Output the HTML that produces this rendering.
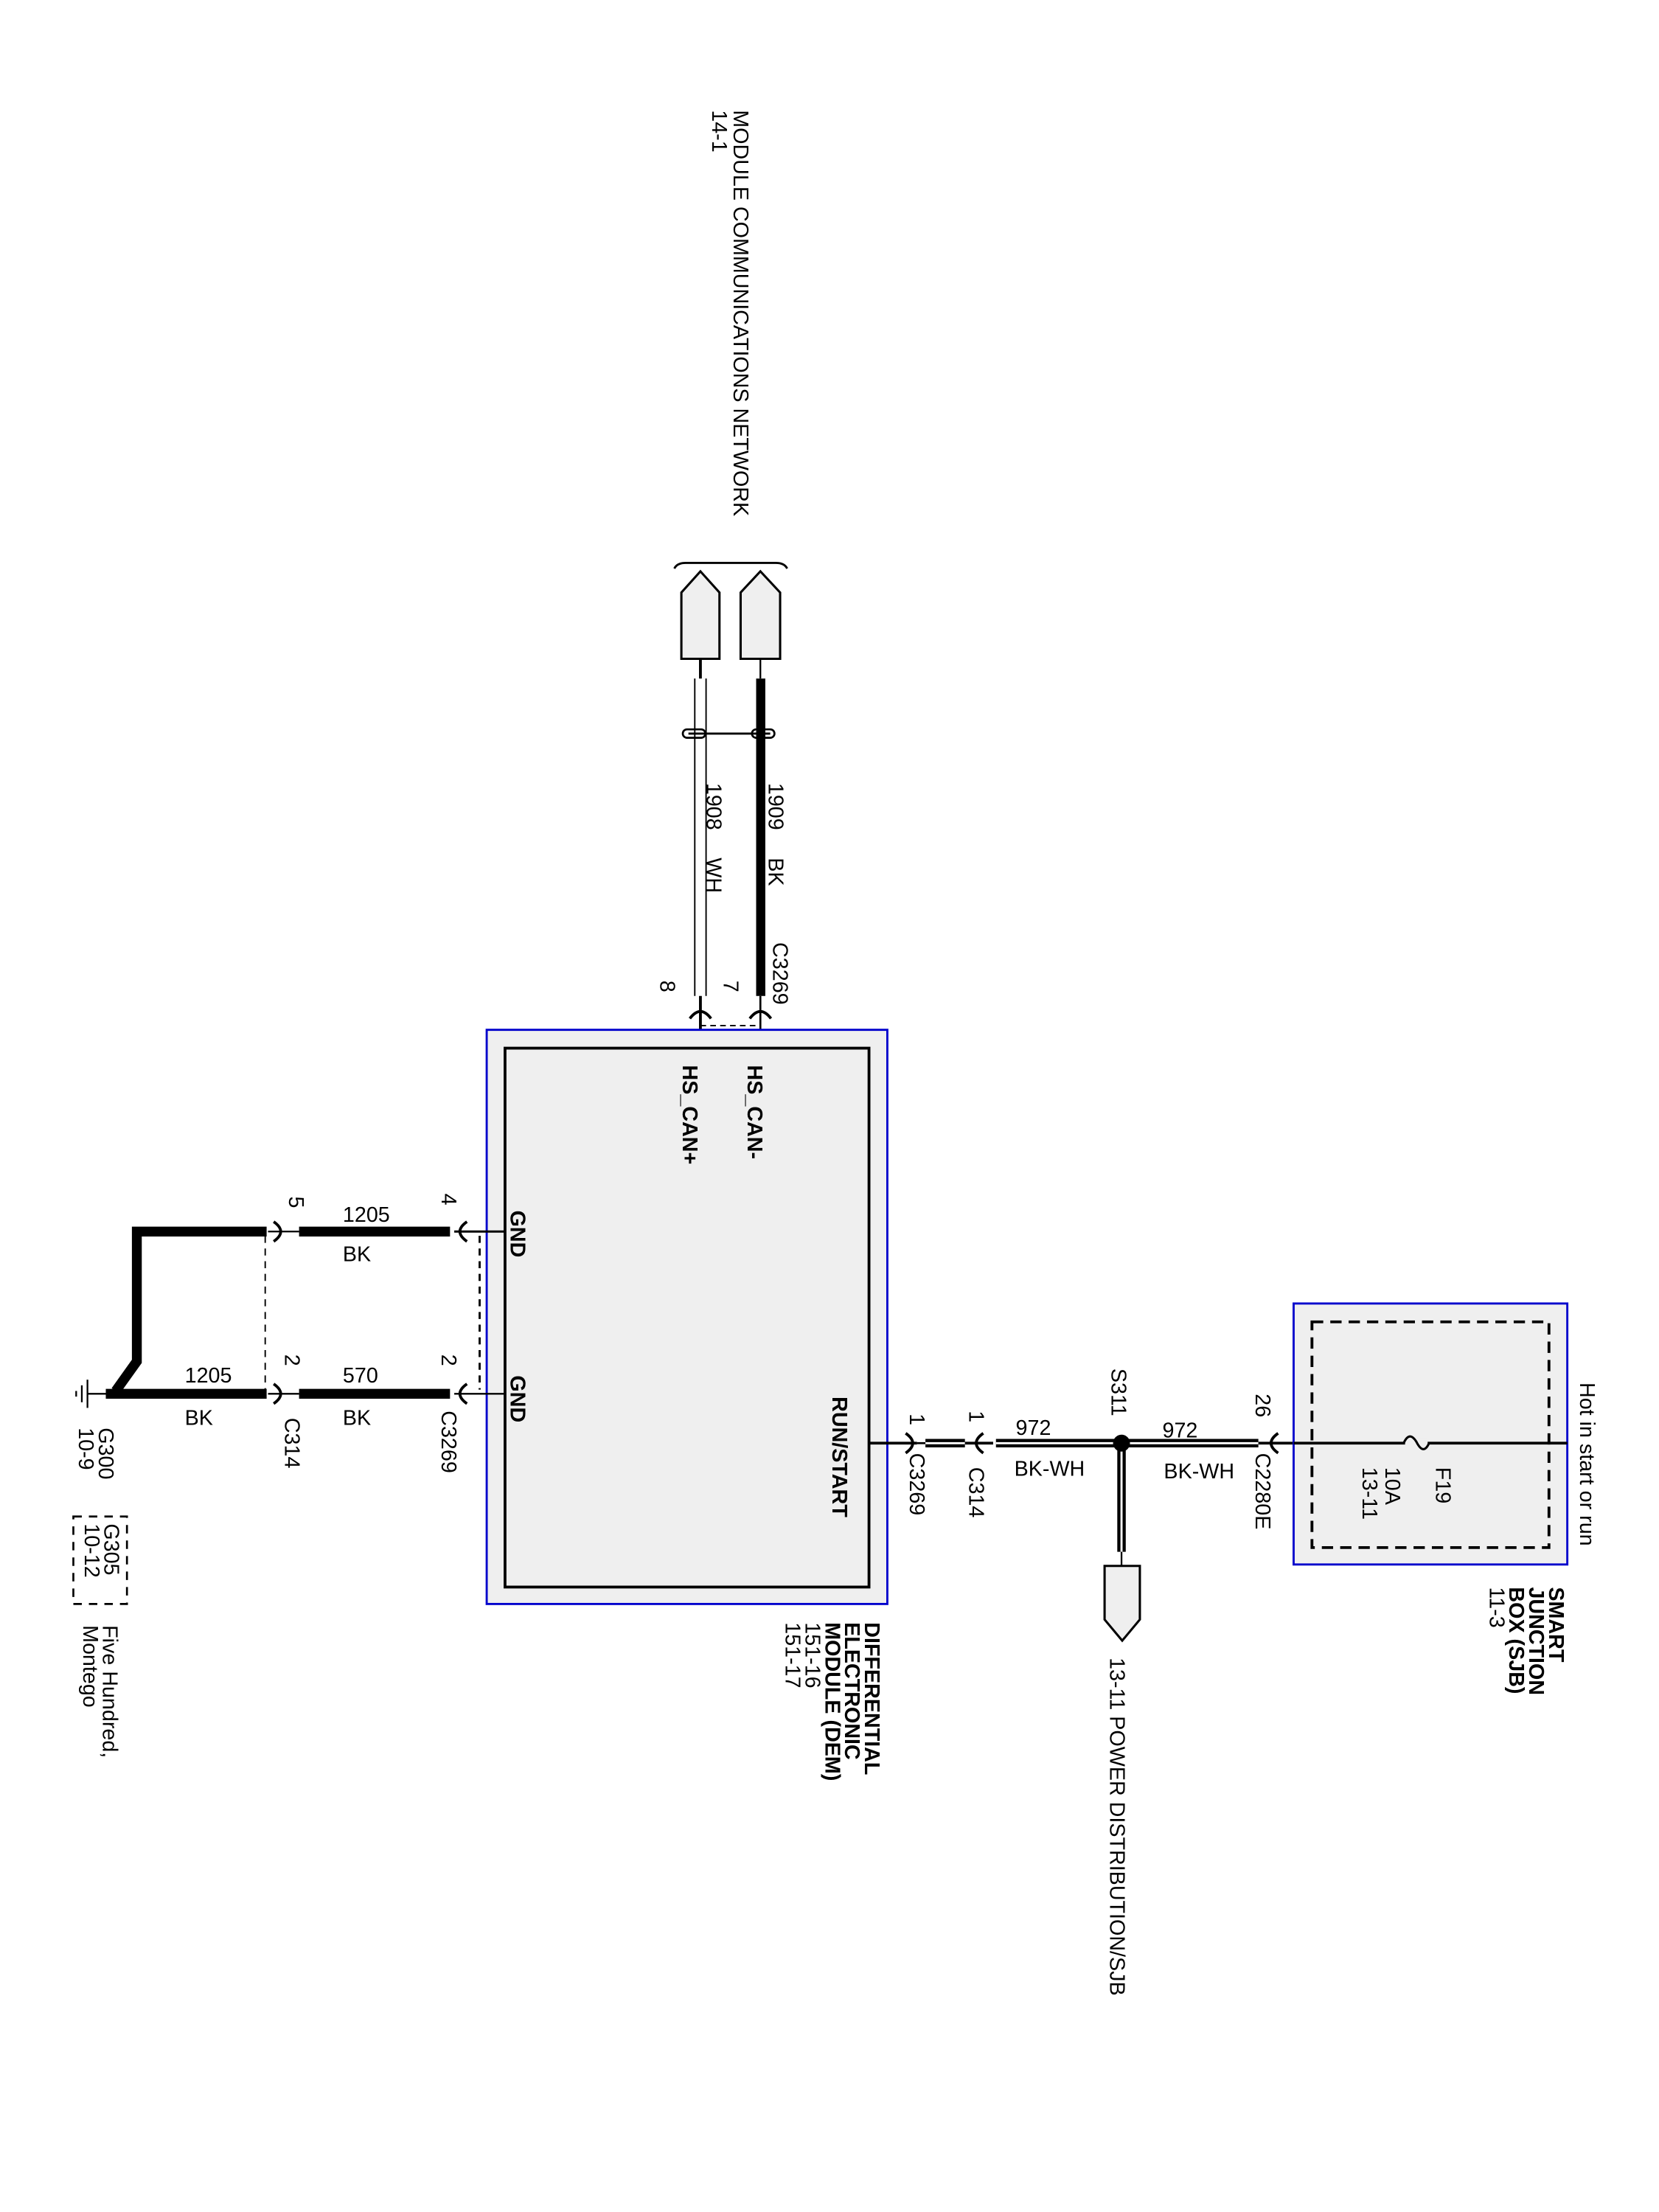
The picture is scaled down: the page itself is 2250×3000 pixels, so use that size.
<!DOCTYPE html>
<html><head><meta charset="utf-8"><style>
html,body{margin:0;padding:0;background:#fff;}
svg{display:block;}
text{font-family:"Liberation Sans",Arial,sans-serif;font-size:15px;fill:#000;}
.b{font-weight:bold;}
</style></head><body>
<svg width="2250" height="3000" viewBox="0 0 1176 1568" xmlns="http://www.w3.org/2000/svg">
<rect width="1176" height="1568" fill="#fff"/>
<text transform="translate(520,78) rotate(90)">MODULE COMMUNICATIONS NETWORK</text>
<text transform="translate(505,78) rotate(90)">14-1</text>
<path d="M478 403 Q480 399 486 399 L550 399 Q556 399 558 403" fill="none" stroke="#000" stroke-width="1.5"/>
<polygon points="483,467 483,420 496.5,405 510,420 510,467" fill="#efefef" stroke="#000" stroke-width="1.6"/>
<polygon points="525,467 525,420 539,405 553,420 553,467" fill="#efefef" stroke="#000" stroke-width="1.6"/>
<line x1="496.5" y1="467" x2="496.5" y2="481" stroke="#000" stroke-width="2"/>
<line x1="539" y1="467" x2="539" y2="481" stroke="#000" stroke-width="1.2"/>
<line x1="492.5" y1="481" x2="492.5" y2="706" stroke="#000" stroke-width="1"/>
<line x1="500.5" y1="481" x2="500.5" y2="706" stroke="#000" stroke-width="1"/>
<rect x="536" y="481" width="6.5" height="225" fill="#000"/>
<line x1="488" y1="520" x2="546" y2="520" stroke="#000" stroke-width="1.5"/>
<rect x="484" y="517" width="16" height="6" rx="3" fill="none" stroke="#000" stroke-width="1.4"/>
<rect x="533" y="517" width="16" height="6" rx="3" fill="none" stroke="#000" stroke-width="1.4"/>
<text transform="translate(501,555) rotate(90)">1908</text>
<text transform="translate(501,608) rotate(90)">WH</text>
<text transform="translate(545,555) rotate(90)">1909</text>
<text transform="translate(545,608) rotate(90)">BK</text>
<text transform="translate(548,668) rotate(90)">C3269</text>
<text transform="translate(468,695) rotate(90)">8</text>
<text transform="translate(513,695) rotate(90)">7</text>
<line x1="496.5" y1="706" x2="496.5" y2="743" stroke="#000" stroke-width="2"/>
<line x1="539" y1="706" x2="539" y2="743" stroke="#000" stroke-width="1.4"/>
<path d="M489 722 Q496.5 712 504 722" fill="none" stroke="#000" stroke-width="2"/>
<path d="M531.5 722 Q539 712 546.5 722" fill="none" stroke="#000" stroke-width="2"/>
<line x1="496.5" y1="727" x2="539" y2="727" stroke="#000" stroke-width="1" stroke-dasharray="4,3"/>
<rect x="345" y="730" width="284" height="407" fill="#efefef" stroke="#0000cc" stroke-width="1.5"/>
<rect x="358" y="743" width="258" height="382" fill="none" stroke="#000" stroke-width="2"/>
<text transform="translate(484,755) rotate(90)" class="b">HS_CAN+</text>
<text transform="translate(530,755) rotate(90)" class="b">HS_CAN-</text>
<text transform="translate(362,858) rotate(90)" class="b">GND</text>
<text transform="translate(362,975) rotate(90)" class="b">GND</text>
<text transform="translate(590,990) rotate(90)" class="b">RUN/START</text>
<text transform="translate(613,1150) rotate(90)" class="b">DIFFERENTIAL</text>
<text transform="translate(599,1150) rotate(90)" class="b">ELECTRONIC</text>
<text transform="translate(585,1150) rotate(90)" class="b">MODULE (DEM)</text>
<text transform="translate(571,1150) rotate(90)">151-16</text>
<text transform="translate(557,1150) rotate(90)">151-17</text>
<g stroke="#000" fill="none">
<line x1="358" y1="873" x2="322" y2="873" stroke-width="1.6"/>
<line x1="358" y1="988" x2="322" y2="988" stroke-width="1.2"/>
<path d="M331 866 Q321 873 331 880" stroke-width="2"/>
<path d="M331 981 Q321 988 331 995" stroke-width="2"/>
<line x1="212" y1="873" x2="319" y2="873" stroke-width="7"/>
<line x1="212" y1="988" x2="319" y2="988" stroke-width="7"/>
<line x1="190" y1="873" x2="212" y2="873" stroke-width="1.2"/>
<line x1="190" y1="988" x2="212" y2="988" stroke-width="1.2"/>
<path d="M194 866 Q204 873 194 880" stroke-width="2"/>
<path d="M194 981 Q204 988 194 995" stroke-width="2"/>
<path d="M189 873 L97 873 L97 965 L82 986" stroke-width="7"/>
<line x1="75" y1="988" x2="189" y2="988" stroke-width="7"/>
<line x1="188" y1="876" x2="188" y2="985" stroke-width="1" stroke-dasharray="5,4"/>
<line x1="340" y1="876" x2="340" y2="985" stroke-width="1.5" stroke-dasharray="5,4"/>
<line x1="62" y1="988" x2="76" y2="988" stroke-width="1.2"/>
<line x1="62" y1="978" x2="62" y2="998" stroke-width="1.2"/>
<line x1="58" y1="982" x2="58" y2="994" stroke-width="1.2"/>
<line x1="54" y1="986" x2="54" y2="990" stroke-width="1.2"/>
</g>
<text transform="translate(205,848) rotate(90)">5</text>
<text transform="translate(313,846) rotate(90)">4</text>
<text transform="translate(202,960) rotate(90)">2</text>
<text transform="translate(313,960) rotate(90)">2</text>
<text x="243" y="866">1205</text>
<text x="243" y="894">BK</text>
<text x="131" y="980">1205</text>
<text x="131" y="1010">BK</text>
<text x="243" y="980">570</text>
<text x="243" y="1010">BK</text>
<text transform="translate(202,1005) rotate(90)">C314</text>
<text transform="translate(313,1000) rotate(90)">C3269</text>
<text transform="translate(70,1012) rotate(90)">G300</text>
<text transform="translate(56,1012) rotate(90)">10-9</text>
<rect x="52" y="1075" width="38" height="62" fill="none" stroke="#000" stroke-width="1.4" stroke-dasharray="6,5"/>
<text transform="translate(74,1080) rotate(90)">G305</text>
<text transform="translate(60,1080) rotate(90)">10-12</text>
<text transform="translate(73,1152) rotate(90)">Five Hundred,</text>
<text transform="translate(59,1152) rotate(90)">Montego</text>
<g stroke="#000" fill="none">
<line x1="616" y1="1023" x2="650" y2="1023" stroke-width="2"/>
<path d="M642 1016 Q652 1023 642 1030" stroke-width="2"/>
<line x1="650" y1="1023" x2="660" y2="1023" stroke-width="1.4"/>
<line x1="656" y1="1023" x2="684" y2="1023" stroke-width="6"/>
<line x1="656" y1="1023" x2="684" y2="1023" stroke="#fff" stroke-width="1.5"/>
<line x1="684" y1="1023" x2="704" y2="1023" stroke-width="2"/>
<path d="M697 1016 Q687 1023 697 1030" stroke-width="2"/>
<line x1="706" y1="1023" x2="790" y2="1023" stroke-width="6"/>
<line x1="706" y1="1023" x2="790" y2="1023" stroke="#fff" stroke-width="1.5"/>
<line x1="800" y1="1023" x2="892" y2="1023" stroke-width="6"/>
<line x1="800" y1="1023" x2="892" y2="1023" stroke="#fff" stroke-width="1.5"/>
<line x1="892" y1="1023" x2="1111" y2="1023" stroke-width="2"/>
<path d="M906 1016 Q896 1023 906 1030" stroke-width="2"/>
<line x1="795" y1="1028" x2="795" y2="1100" stroke-width="6"/>
<line x1="795" y1="1028" x2="795" y2="1100" stroke="#fff" stroke-width="1.5"/>
<line x1="795" y1="1100" x2="795" y2="1110" stroke-width="1.2"/>
</g>
<circle cx="795" cy="1023" r="6" fill="#000"/>
<polygon points="783,1110 808,1110 808,1148 795.5,1163 783,1148" fill="#efefef" stroke="#000" stroke-width="1.6"/>
<text transform="translate(645,1002) rotate(90)">1</text>
<text transform="translate(645,1030) rotate(90)">C3269</text>
<text transform="translate(687,1000) rotate(90)">1</text>
<text transform="translate(687,1040) rotate(90)">C314</text>
<text x="720" y="1017">972</text>
<text x="719" y="1046">BK-WH</text>
<text transform="translate(788,970) rotate(90)">S311</text>
<text x="824" y="1019">972</text>
<text x="825" y="1048">BK-WH</text>
<text transform="translate(890,988) rotate(90)">26</text>
<text transform="translate(890,1030) rotate(90)">C2280E</text>
<text transform="translate(787,1175) rotate(90)">13-11    POWER DISTRIBUTION/SJB</text>
<rect x="917" y="924" width="194" height="185" fill="#efefef" stroke="#0000cc" stroke-width="1.5"/>
<rect x="930" y="937" width="168" height="160" fill="none" stroke="#000" stroke-width="2" stroke-dasharray="8,5"/>
<line x1="917" y1="1023" x2="1111" y2="1023" stroke="#000" stroke-width="2"/>
<rect x="996" y="1020" width="16" height="6" fill="#efefef"/>
<path d="M995 1023 Q999 1014 1004 1022 Q1009 1032 1013 1023" fill="none" stroke="#000" stroke-width="1.6"/>
<text transform="translate(1018,1040) rotate(90)">F19</text>
<text transform="translate(982,1040) rotate(90)">10A</text>
<text transform="translate(966,1040) rotate(90)">13-11</text>
<text transform="translate(1120,980) rotate(90)">Hot in start or run</text>
<text transform="translate(1098,1125) rotate(90)" class="b">SMART</text>
<text transform="translate(1084,1125) rotate(90)" class="b">JUNCTION</text>
<text transform="translate(1070,1125) rotate(90)" class="b">BOX (SJB)</text>
<text transform="translate(1056,1125) rotate(90)">11-3</text>
</svg>
</body></html>
